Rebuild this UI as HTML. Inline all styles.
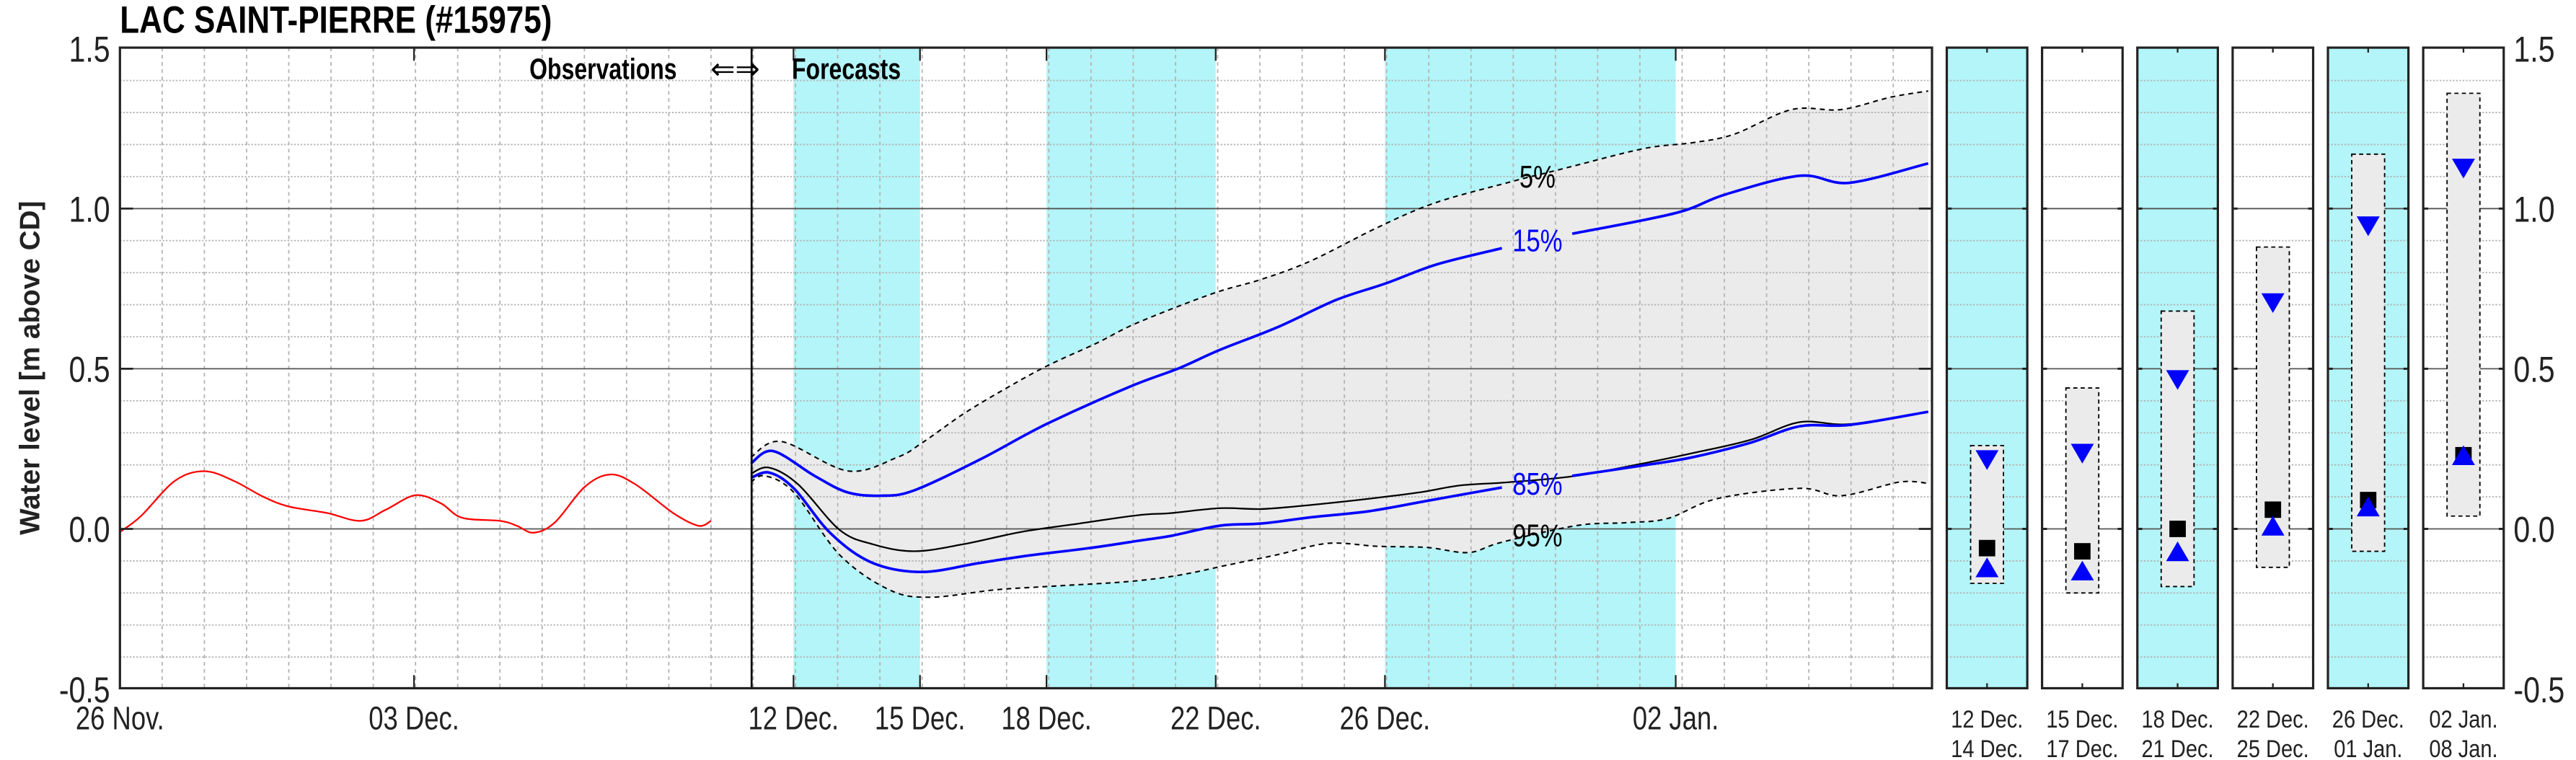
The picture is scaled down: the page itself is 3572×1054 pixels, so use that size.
<!DOCTYPE html>
<html><head><meta charset="utf-8"><style>
html,body{margin:0;padding:0;background:#fff;}
svg{display:block;}
text{font-family:"Liberation Sans",sans-serif;}
</style></head><body>
<svg id="s" width="3572" height="1054" viewBox="0 0 1568 462.7" preserveAspectRatio="none" xmlns="http://www.w3.org/2000/svg"></svg>
<script>
const S=document.getElementById('s');let h='';
const X0=73,X1=1176,YT=29,YB=419;
const Y=v=>322-v*195;
const D=d=>73+d*25.7;
function T(x,y,s,size,anchor,extra,sx){sx=sx||0.8;return `<text transform="translate(${x},${y}) scale(${sx},1)" font-size="${size}" text-anchor="${anchor||'start'}" ${extra||''}>${s}</text>`;}
[[483,560],[637,740],[843,1020]].forEach(b=>h+=`<rect x="${b[0]}" y="${YT}" width="${b[1]-b[0]}" height="${YB-YT}" fill="#b3f5f8"/>`);
const zx=z=>395+z/1.984, zy=z=>17.56+z/3.968;
const P=a=>a.map(p=>[zx(p[0]),zy(p[1])]);
function cr(pts){let d=`M${pts[0][0].toFixed(1)},${pts[0][1].toFixed(1)}`;for(let i=0;i<pts.length-1;i++){const p0=pts[Math.max(0,i-1)],p1=pts[i],p2=pts[i+1],p3=pts[Math.min(pts.length-1,i+2)];const c1=[p1[0]+(p2[0]-p0[0])/6,p1[1]+(p2[1]-p0[1])/6],c2=[p2[0]-(p3[0]-p1[0])/6,p2[1]-(p3[1]-p1[1])/6];d+=`C${c1[0].toFixed(1)},${c1[1].toFixed(1)} ${c2[0].toFixed(1)},${c2[1].toFixed(1)} ${p2[0].toFixed(1)},${p2[1].toFixed(1)}`;}return d;}
const p5=P([[123,1035],[160,997],[240,1068],[300,1035],[330,1000],[380,930],[430,870],[480,815],[540,760],[590,710],[680,640],[740,605],[800,560],[880,480],[950,420],[1040,370],[1100,340],[1200,290],[1260,275],[1310,255],[1380,195],[1440,195],[1500,165],[1545,150]]);
const p95=P([[123,1095],[140,1080],[175,1120],[230,1270],[290,1355],[340,1373],[420,1355],[500,1345],[580,1335],[640,1320],[700,1295],[760,1270],[820,1243],[880,1250],[940,1253],[990,1265],[1030,1240],[1120,1200],[1180,1193],[1230,1183],[1290,1135],[1390,1110],[1440,1128],[1510,1095],[1545,1098]]);
const p15a=P([[123,1050],[150,1020],[200,1080],[240,1120],[280,1128],[320,1115],[400,1040],[480,955],[580,865],[640,820],[690,775],[760,720],[830,655],[890,615],[950,570],[1030,530]]);
const p15b=P([[1115,495],[1240,445],[1300,400],[1390,355],[1450,372],[1545,325]]);
const pbl=P([[123,1075],[145,1060],[180,1100],[230,1210],[270,1245],[320,1262],[380,1245],[450,1215],[520,1195],[590,1175],[630,1170],[690,1158],[740,1160],[800,1150],[870,1135],[930,1120],[980,1103],[1040,1095],[1120,1080],[1200,1050],[1260,1025],[1330,993],[1390,950],[1450,955],[1545,925]]);
const p85a=P([[123,1085],[145,1072],[175,1110],[220,1220],[270,1290],[330,1312],[400,1290],[460,1272],[530,1255],[590,1237],[630,1225],[690,1200],[740,1195],[800,1180],[870,1165],[940,1140],[1030,1108]]);
const p85b=P([[1115,1080],[1200,1055],[1260,1035],[1330,1000],[1390,960],[1450,957],[1545,925]]);
const r95=p95.slice().reverse();
h+=`<path d="${cr(p5)} L${r95[0][0]},${r95[0][1]} ${cr(r95).slice(1)} Z" fill="#ebebeb"/>`;
let g='';
for(let d=1;d<43;d++){const x=D(d);if(x>=X1)break;g+=`M${x},${YT}V${YB}`;}
h+=`<path d="${g}" stroke="#b4b4b4" stroke-width="0.8" stroke-dasharray="2.2,2.2" fill="none"/>`;
let gh='';
for(let i=-4;i<=14;i++){if(i%5===0)continue;gh+=`M${X0},${Y(i/10)}H${X1}`;}
h+=`<path d="${gh}" stroke="#b4b4b4" stroke-width="0.8" stroke-dasharray="1,1" fill="none"/>`;
[0,0.5,1].forEach(v=>h+=`<line x1="${X0}" x2="${X1}" y1="${Y(v)}" y2="${Y(v)}" stroke="#555" stroke-width="0.8"/>`);
const red=[[0,-0.01],[0.5,0.04],[1.3,0.15],[2,0.18],[2.7,0.15],[3.4,0.1],[4,0.07],[4.9,0.05],[5.7,0.025],[6.3,0.06],[7,0.105],[7.6,0.08],[8.1,0.035],[9,0.025],[9.4,0.01],[9.8,-0.012],[10.3,0.02],[11,0.13],[11.6,0.17],[12.2,0.14],[13.1,0.05],[13.7,0.01],[14,0.025]].map(p=>[D(p[0]),Y(p[1])]);
h+=`<path d="${cr(red)}" stroke="#f00" stroke-width="1" fill="none"/>`;
h+=`<path d="${cr(p5)}" stroke="#000" stroke-width="0.9" stroke-dasharray="3,2.5" fill="none"/>`;
h+=`<path d="${cr(p95)}" stroke="#000" stroke-width="0.9" stroke-dasharray="3,2.5" fill="none"/>`;
h+=`<path d="${cr(pbl)}" stroke="#000" stroke-width="1" fill="none"/>`;
[p15a,p15b,p85a,p85b].forEach(p=>h+=`<path d="${cr(p)}" stroke="#0000ff" stroke-width="1.6" fill="none"/>`);
h+=T(zx(1073),zy(383),'5%',19,'middle');
h+=T(zx(1073),zy(537),'15%',19,'middle','fill="#00f"');
h+=T(zx(1073),zy(1125),'85%',19,'middle','fill="#00f"');
h+=T(zx(1073),zy(1250),'95%',19,'middle');
h+=`<line x1="457.5" x2="457.5" y1="${YT}" y2="${YB}" stroke="#000" stroke-width="1.2"/>`;
[73,252,483,560,637,740,843,1020].forEach(x=>{h+=`<line x1="${x}" x2="${x}" y1="${YT}" y2="${YT+8}" stroke="#222" stroke-width="1"/><line x1="${x}" x2="${x}" y1="${YB}" y2="${YB-8}" stroke="#222" stroke-width="1"/>`;});
[0,0.5,1].forEach(v=>h+=`<line x1="${X0}" x2="${X0+8}" y1="${Y(v)}" y2="${Y(v)}" stroke="#222" stroke-width="1.2"/><line x1="${X1}" x2="${X1-8}" y1="${Y(v)}" y2="${Y(v)}" stroke="#222" stroke-width="1.2"/>`);
h+=`<rect x="${X0}" y="${YT}" width="${X1-X0}" height="${YB-YT}" fill="none" stroke="#222" stroke-width="1.4"/>`;
h+=T(412,48,'Observations',18,'end','font-weight="bold"',0.78);
h+=T(447.5,48,'⇐⇒',18,'middle','font-family="DejaVu Sans"',1.0);
h+=T(482,48,'Forecasts',18,'start','font-weight="bold"',0.78);
[[1.5,'1.5'],[1,'1.0'],[0.5,'0.5'],[0,'0.0'],[-0.5,'-0.5']].forEach(a=>{h+=T(67,Y(a[0])+8,a[1],22,'end','fill="#222"',0.82);h+=T(1530,Y(a[0])+8,a[1],22,'start','fill="#222"',0.82);});
[[73,'26 Nov.'],[252,'03 Dec.'],[483,'12 Dec.'],[560,'15 Dec.'],[637,'18 Dec.'],[740,'22 Dec.'],[843,'26 Dec.'],[1020,'02 Jan.']].forEach(a=>h+=T(a[0],444,a[1],20,'middle','fill="#222"',0.8));
h+=T(73,20,'LAC SAINT-PIERRE (#15975)',23,'start','font-weight="bold"',0.84);
h+=`<text transform="translate(24,224) rotate(-90)" font-size="17" font-weight="bold" text-anchor="middle" fill="#222">Water level [m above CD]</text>`;
const pan=[[1185,1,0.26,-0.17,0.22,-0.06,-0.12,'12 Dec.','14 Dec.'],[1243,0,0.44,-0.2,0.24,-0.07,-0.13,'15 Dec.','17 Dec.'],[1301,1,0.68,-0.18,0.47,0,-0.07,'18 Dec.','21 Dec.'],[1359,0,0.88,-0.12,0.71,0.06,0.01,'22 Dec.','25 Dec.'],[1417,1,1.17,-0.07,0.95,0.09,0.07,'26 Dec.','01 Jan.'],[1475,0,1.36,0.04,1.13,0.23,0.23,'02 Jan.','08 Jan.']];
pan.forEach(p=>{const x=p[0],w=49,c=x+w/2;
 if(p[1])h+=`<rect x="${x}" y="${YT}" width="${w}" height="${YB-YT}" fill="#b3f5f8"/>`;
 let q='';for(let i=-4;i<=14;i++){if(i%5===0)continue;q+=`M${x},${Y(i/10)}H${x+w}`;}
 h+=`<path d="${q}" stroke="#b4b4b4" stroke-width="0.8" stroke-dasharray="1,1" fill="none"/>`;
 [0,0.5,1].forEach(v=>h+=`<line x1="${x}" x2="${x+w}" y1="${Y(v)}" y2="${Y(v)}" stroke="#555" stroke-width="0.8"/><line x1="${x}" x2="${x+3}" y1="${Y(v)}" y2="${Y(v)}" stroke="#222" stroke-width="1.3"/><line x1="${x+w-3}" x2="${x+w}" y1="${Y(v)}" y2="${Y(v)}" stroke="#222" stroke-width="1.3"/>`);
 h+=`<rect x="${c-10}" y="${Y(p[2])}" width="20" height="${Y(p[3])-Y(p[2])}" fill="#ebebeb" stroke="#000" stroke-width="0.8" stroke-dasharray="2.5,2"/>`;
 h+=`<rect x="${c-5}" y="${Y(p[5])-5}" width="10" height="10" fill="#000"/>`;
 const yd=Y(p[4]),yu=Y(p[6]);
 h+=`<polygon points="${c-7},${yd-5} ${c+7},${yd-5} ${c},${yd+7}" fill="#00f"/>`;
 h+=`<polygon points="${c-7},${yu+6} ${c+7},${yu+6} ${c},${yu-6}" fill="#00f"/>`;
 h+=`<line x1="${c}" x2="${c}" y1="${YT}" y2="${YT+3}" stroke="#222"/><line x1="${c}" x2="${c}" y1="${YB}" y2="${YB-3}" stroke="#222"/>`;
 h+=`<rect x="${x}" y="${YT}" width="${w}" height="${YB-YT}" fill="none" stroke="#222" stroke-width="1.4"/>`;
 h+=T(c,443,p[7],15,'middle','fill="#222"',0.85)+T(c,461,p[8],15,'middle','fill="#222"',0.85);
});
S.innerHTML=h;
</script>
</body></html>
